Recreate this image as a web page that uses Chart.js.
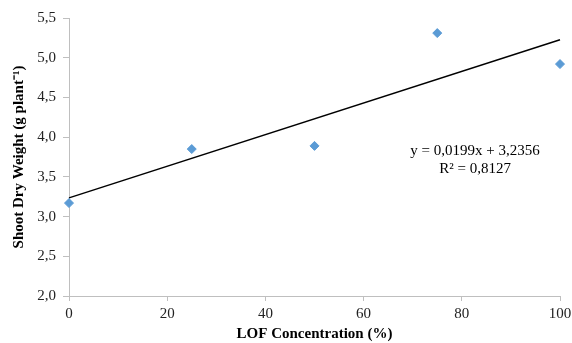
<!DOCTYPE html>
<html>
<head>
<meta charset="utf-8">
<script src="https://cdn.jsdelivr.net/npm/chart.js@4/dist/chart.umd.min.js"></script>
<style>
html,body{margin:0;padding:0;background:#fff;}
#wrap{width:572px;height:343px;}
</style>
</head>
<body>
<div id="wrap"><canvas id="c" width="572" height="343"></canvas></div>
<script>
const concentrations = [0, 25, 50, 75, 100];
const shootDryWeight = [3.17, 3.85, 3.89, 5.31, 4.92];
const trendX = [0, 100];
const trendY = [3.2356, 5.2256];
const equationLines = ["y = 0,0199x + 3,2356", "R² = 0,8127"];
const xTitle = "LOF Concentration (%)";
const yTitle = "Shoot Dry Weight (g plant⁻¹)";

const fmt = v => v.toFixed(1).replace('.', ',');

const eqPlugin = {
  id: 'eq',
  afterDraw(chart) {
    const ctx = chart.ctx;
    const xs = chart.scales.x, ys = chart.scales.y;
    const cx = xs.getPixelForValue(82.7);
    const cy = ys.getPixelForValue(3.82);
    ctx.save();
    ctx.fillStyle = '#000';
    ctx.font = '15px "Liberation Serif"';
    ctx.textAlign = 'center';
    ctx.textBaseline = 'middle';
    ctx.fillText(equationLines[0], cx, cy);
    ctx.fillText(equationLines[1], cx, cy + 18);
    ctx.restore();
  }
};

new Chart(document.getElementById('c'), {
  type: 'scatter',
  data: {
    datasets: [
      {
        label: 'data',
        data: concentrations.map((x, i) => ({x, y: shootDryWeight[i]})),
        pointStyle: 'rectRot',
        pointRadius: 4.5,
        backgroundColor: '#5B9BD5',
        borderColor: '#5B9BD5',
        borderWidth: 1,
        clip: false,
        order: 0
      },
      {
        label: 'trend',
        type: 'line',
        data: trendX.map((x, i) => ({x, y: trendY[i]})),
        borderColor: '#000',
        borderWidth: 1.5,
        pointRadius: 0,
        fill: false,
        clip: false,
        order: 1
      }
    ]
  },
  options: {
    responsive: false,
    animation: false,
    layout: {padding: {top: 18, right: 12, left: 0, bottom: 0}},
    plugins: {legend: {display: false}, tooltip: {enabled: false}},
    scales: {
      x: {
        type: 'linear',
        min: 0, max: 100,
        ticks: {stepSize: 20, color: '#222', font: {family: 'Liberation Serif', size: 15}, padding: 4},
        grid: {drawOnChartArea: false, drawTicks: true, tickLength: 5, color: '#bfbfbf'},
        border: {color: '#bfbfbf'},
        title: {display: true, text: xTitle, color: '#000', font: {family: 'Liberation Serif', size: 15, weight: 'bold'}, padding: {top: 0, bottom: 0}},
        afterFit(s) { s.height = 47; s.paddingLeft = 0; s.paddingRight = 0; }
      },
      y: {
        min: 2, max: 5.5,
        ticks: {stepSize: 0.5, color: '#222', font: {family: 'Liberation Serif', size: 15}, padding: 7, callback: v => fmt(v)},
        grid: {drawOnChartArea: false, drawTicks: true, tickLength: 6, color: '#bfbfbf'},
        border: {color: '#bfbfbf'},
        title: {display: true, text: yTitle, color: '#000', font: {family: 'Liberation Serif', size: 15, weight: 'bold'}, padding: {top: 10, bottom: 0}},
        afterFit(s) { s.width = 69; s.paddingTop = 0; s.paddingBottom = 0; }
      }
    }
  },
  plugins: [eqPlugin]
});
</script>
</body>
</html>
